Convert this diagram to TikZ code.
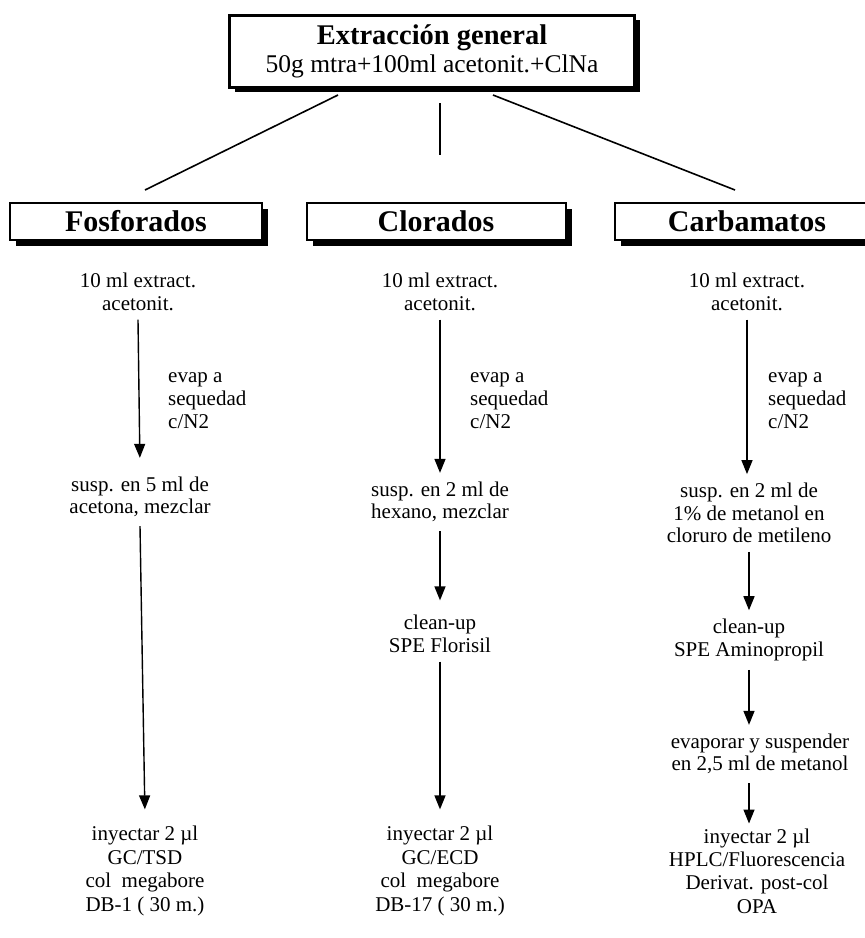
\documentclass[tikz,border=0pt]{standalone}
\usepackage{fontspec}
\setmainfont{Liberation Serif}
\usetikzlibrary{arrows.meta,shadows}
\begin{document}
\begin{tikzpicture}[x=1pt,y=-1pt,
  txt/.style={align=center,inner sep=0pt,outer sep=9pt,font=\fontsize{21}{22.5}\selectfont},
  bottxt/.style={txt,font=\fontsize{21}{23.4}\selectfont},
  evaptxt/.style={align=left,anchor=west,inner sep=0pt,font=\fontsize{21}{23}\selectfont},
  arr/.style={line width=1.4pt,-{Triangle[width=11pt,length=14pt]}},
  conn/.style={line width=1.6pt},
  catbox/.style={draw,line width=2pt,fill=white,minimum height=37pt,inner sep=0pt,
    font=\bfseries\fontsize{30}{31}\selectfont,
    drop shadow={shadow xshift=6pt,shadow yshift=-6pt,fill=black,opacity=1}},
  topbox/.style={draw,line width=3pt,fill=white,minimum width=405pt,minimum height=72pt,
    inner sep=0pt,align=center,
    drop shadow={shadow xshift=5pt,shadow yshift=-5pt,fill=black,opacity=1}}]
\fill[white] (0,0) rectangle (865,938);
\useasboundingbox (0,0) rectangle (865,938);
\clip (0,0) rectangle (865,938);

% top box
\node[topbox] (top) at (432,51)
  {{\bfseries\fontsize{28.5}{31}\selectfont Extracción general}\\[3pt]
   {\fontsize{25.5}{31}\selectfont 50g mtra+100ml acetonit.+ClNa}};

% category boxes
\node[catbox,minimum width=252pt] (fos) at (136,221) {Fosforados};
\node[catbox,minimum width=259pt] (clo) at (436,221) {Clorados};
\node[catbox,minimum width=264pt] (car) at (747,221) {Carbamatos};

% connectors from top box
\coordinate (tL) at (338,95);
\coordinate (fL) at (145,190);
\coordinate (tM) at (440,103);
\coordinate (fM) at (440,155);
\coordinate (tR) at (493,95);
\coordinate (fR) at (735,190);
\draw[conn] (tL) -- (fL);
\draw[conn] (tM) -- (fM);
\draw[conn] (tR) -- (fR);

% left column
\node[txt] (L1) at (138,292) {10 ml extract.\\acetonit.};
\node[evaptxt] (Le) at (168,401) {evap a\\sequedad\\c/N2};
\node[txt] (L2) at (140,497) {susp. en 5 ml de\\acetona, mezclar};
\node[bottxt] (L3) at (145,871) {inyectar 2 µl\\GC/TSD\\col\ \ megabore\\DB-1 ( 30 m.)};
\draw[arr,shorten >=10pt] (L1.south) -- (L2.north);
\draw[arr,shorten >=8pt] (L2.south) -- (L3.north);

% middle column
\node[txt] (M1) at (440,292) {10 ml extract.\\acetonit.};
\node[evaptxt] (Me) at (470,401) {evap a\\sequedad\\c/N2};
\node[txt] (M2) at (440,502) {susp. en 2 ml de\\hexano, mezclar};
\node[txt] (M3) at (440,634) {clean-up\\SPE Florisil};
\node[bottxt] (M4) at (440,871) {inyectar 2 µl\\GC/ECD\\col\ \ megabore\\DB-17 ( 30 m.)};
\draw[arr] (M1.south) -- (M2.north);
\draw[arr,shorten >=6pt] (M2.south) -- (M3.north);
\draw[arr,shorten >=8pt] (M3.south) -- (M4.north);

% right column
\node[txt] (R1) at (747,292) {10 ml extract.\\acetonit.};
\node[evaptxt] (Re) at (768,401) {evap a\\sequedad\\c/N2};
\node[txt] (R2) at (749,513) {susp. en 2 ml de\\1\% de metanol en\\cloruro de metileno};
\node[txt] (R3) at (749,640) {clean-up\\SPE Aminopropil};
\node[txt] (R4) at (760,754) {evaporar y suspender\\en 2,5 ml de metanol};
\node[bottxt] (R5) at (757,871) {inyectar 2 µl\\HPLC/Fluorescencia\\Derivat. post-col\\OPA};
\draw[arr] (R1.south) -- (R1.south |- R2.north);
\draw[arr] (R2.south) -- (R2.south |- R3.north);
\draw[arr] (R3.south) -- (R3.south |- R4.north);
\draw[arr,shorten >=-4pt] (R3.south |- R4.south) -- (R3.south |- R5.north);
\end{tikzpicture}
\end{document}
